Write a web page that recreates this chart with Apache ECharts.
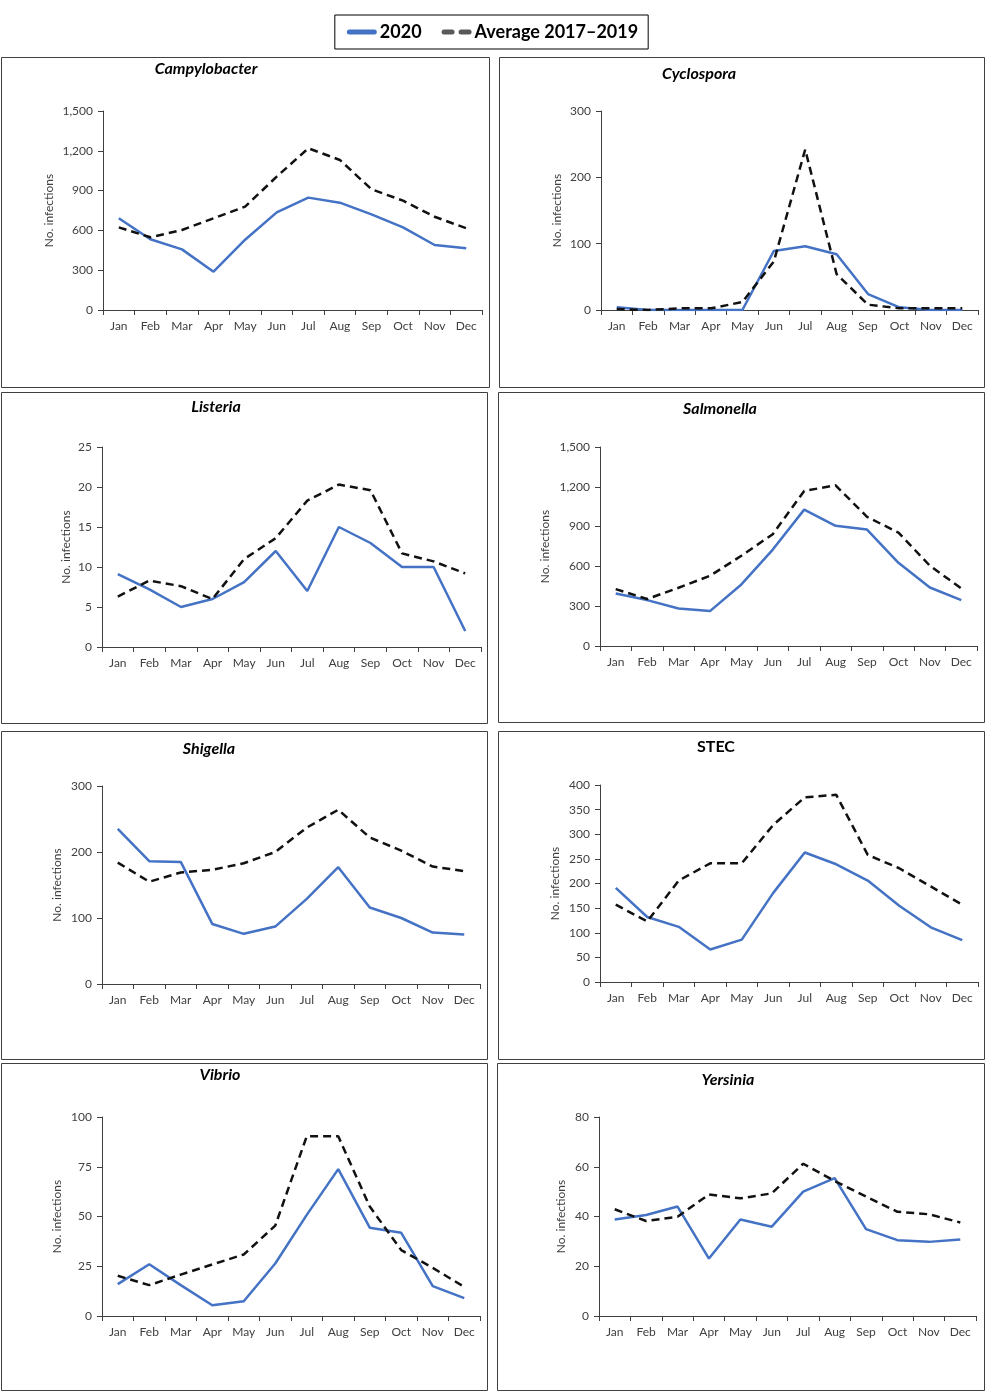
<!DOCTYPE html>
<html>
<head>
<meta charset="utf-8">
<script src="https://cdn.jsdelivr.net/npm/echarts@6/dist/echarts.min.js"></script>
<style>
html,body{margin:0;padding:0;background:#fff;}
#chart{width:985px;height:1392px;}
</style>
</head>
<body>
<div id="chart"></div>
<script>
// ---------- DATA ----------
const months = ['Jan','Feb','Mar','Apr','May','Jun','Jul','Aug','Sep','Oct','Nov','Dec'];
const pathogens = ['Campylobacter','Cyclospora','Listeria','Salmonella','Shigella','STEC','Vibrio','Yersinia'];
const seriesNames = ['2020','Average 2017\u20132019'];

const campy2020 = [691, 533, 457, 289, 530, 736, 847, 809, 721, 623, 490, 465];
const campyAvg  = [623, 548, 603, 691, 779, 1005, 1219, 1131, 910, 824, 703, 616];
const cyclo2020 = [4, 0, 0, 0, 0, 89, 96, 84, 24, 4, 0, 0];
const cycloAvg  = [1.5, 0, 2.5, 2.5, 12, 73, 242, 54, 8, 2.5, 2.5, 2.5];
const list2020  = [9.1, 7.2, 5, 6, 8.1, 12, 7, 15, 13, 10, 10, 2];
const listAvg   = [6.3, 8.3, 7.6, 6, 11, 13.6, 18.3, 20.3, 19.6, 11.7, 10.7, 9.2];
const salm2020  = [396, 346, 283, 263, 464, 727, 1028, 906, 878, 627, 441, 346];
const salmAvg   = [429, 354, 439, 529, 680, 843, 1169, 1211, 973, 855, 605, 434];
const shig2020  = [235, 186, 185, 91, 76, 87, 129, 177, 116, 100, 78, 75];
const shigAvg   = [184, 155, 169, 173, 183, 200, 237, 264, 222, 202, 178, 171];
const stec2020  = [191, 132, 112, 66, 86, 181, 263, 239, 206, 155, 111, 85];
const stecAvg   = [157, 123, 206, 241, 241, 319, 375, 380, 258, 231, 194, 157];
const vib2020   = [16, 26, 15.5, 5.4, 7.4, 26.4, 50.8, 73.8, 44.4, 41.8, 15, 9];
const vibAvg    = [20.2, 15.5, 20.8, 25.9, 30.9, 45.4, 90.3, 90.3, 55, 33.1, 24.2, 14.6];
const yers2020  = [38.8, 40.6, 44, 23.1, 38.8, 35.9, 50, 55.4, 34.9, 30.5, 29.8, 30.8];
const yersAvg   = [42.9, 38.2, 39.9, 48.9, 47.3, 49.3, 61.2, 54.3, 48, 41.9, 40.9, 37.6];

const yMax      = [1500, 300, 25, 1500, 300, 400, 100, 80];
const yInterval = [300, 100, 5, 300, 100, 50, 25, 20];
const yAxisTitle = 'No. infections';

const values2020 = [campy2020, cyclo2020, list2020, salm2020, shig2020, stec2020, vib2020, yers2020];
const valuesAvg  = [campyAvg, cycloAvg, listAvg, salmAvg, shigAvg, stecAvg, vibAvg, yersAvg];

// ---------- LAYOUT (positions only) ----------
const layout = [
  {plot:[103,111,482,310], box:[1,57,489,387],   title:[206,69],  italic:true,  gap:48},
  {plot:[601,111,978,310], box:[499,57,984,387], title:[699,74],  italic:true,  gap:38},
  {plot:[102,447,481,647], box:[1,392,487,723],  title:[216,407], italic:true,  gap:30},
  {plot:[600,447,977,646], box:[498,392,984,722],title:[720,409], italic:true,  gap:49},
  {plot:[102,786,480,984], box:[1,731,487,1059], title:[209,749], italic:true,  gap:39},
  {plot:[600,785,978,982], box:[498,731,984,1059],title:[716,747],italic:false, gap:39},
  {plot:[102,1117,480,1316],box:[1,1063,487,1390],title:[220,1075],italic:true, gap:39},
  {plot:[599,1117,976,1316],box:[497,1063,984,1390],title:[728,1080],italic:true,gap:32}
];

const FONT = 'Lato, "Open Sans", sans-serif';
const axisColor = '#404040';
const blue = '#4472C4';

const grids = [], xAxes = [], yAxes = [], series = [], titles = [], graphics = [];
layout.forEach((L, i) => {
  const [l, t, r, b] = L.plot;
  grids.push({left: l, top: t, width: r - l, height: b - t, containLabel: false});
  xAxes.push({
    type: 'category', gridIndex: i, data: months, boundaryGap: true,
    axisLine: {show: true, lineStyle: {color: axisColor, width: 1}},
    axisTick: {show: true, length: 5, lineStyle: {color: axisColor}},
    axisLabel: {color: '#404040', fontSize: 12, fontFamily: FONT, margin: 10, interval: 0},
    splitLine: {show: false}
  });
  yAxes.push({
    type: 'value', gridIndex: i, min: 0, max: yMax[i], interval: yInterval[i],
    name: yAxisTitle, nameLocation: 'middle', nameGap: L.gap, nameRotate: 90,
    nameTextStyle: {color: '#404040', fontSize: 12, fontFamily: FONT},
    axisLine: {show: true, lineStyle: {color: axisColor, width: 1}},
    axisTick: {show: true, length: 5, lineStyle: {color: axisColor}},
    axisLabel: {color: '#404040', fontSize: 12, fontFamily: FONT, margin: 10,
      formatter: v => v.toLocaleString('en-US')},
    splitLine: {show: false}
  });
  series.push({
    name: seriesNames[0], type: 'line', xAxisIndex: i, yAxisIndex: i,
    data: values2020[i], symbol: 'none', smooth: false,
    lineStyle: {color: blue, width: 2.5}, itemStyle: {color: blue}, z: 3
  });
  series.push({
    name: seriesNames[1], type: 'line', xAxisIndex: i, yAxisIndex: i,
    data: valuesAvg[i], symbol: 'none', smooth: false,
    lineStyle: {color: '#111', width: 2.5, type: [8, 5]}, itemStyle: {color: '#595959'}, z: 4
  });
  titles.push({
    text: pathogens[i], left: L.title[0] - 5, top: L.title[1] - 13, textAlign: 'center',
    textStyle: {fontSize: 16, fontWeight: 'bold', fontStyle: L.italic ? 'italic' : 'normal',
      color: '#000', fontFamily: FONT}
  });
  const [x0, y0, x1, y1] = L.box;
  graphics.push({
    type: 'rect', shape: {x: x0 + 0.5, y: y0 + 0.5, width: x1 - x0, height: y1 - y0},
    style: {fill: 'none', stroke: '#404040', lineWidth: 1}, silent: true, z: -1
  });
});

const chart = echarts.init(document.getElementById('chart'), null, {renderer: 'canvas'});
chart.setOption({
  backgroundColor: '#fff',
  animation: false,
  title: titles,
  legend: {
    data: [
      {name: seriesNames[0], icon: 'path://M2.5,0H27.5A2.5,2.5 0 0 1 27.5,5H2.5A2.5,2.5 0 0 1 2.5,0Z',
       itemStyle: {color: blue}},
      {name: seriesNames[1], icon: 'path://M2.5,0H10.5A2.5,2.5 0 0 1 10.5,5H2.5A2.5,2.5 0 0 1 2.5,0Z M19.5,0H27.5A2.5,2.5 0 0 1 27.5,5H19.5A2.5,2.5 0 0 1 19.5,0Z',
       itemStyle: {color: '#595959'}}
    ],
    top: 15, left: 'center',
    borderColor: '#000', borderWidth: 1, padding: [8, 10, 8, 12],
    itemWidth: 30, itemHeight: 5, itemGap: 20,
    textStyle: {fontSize: 18, fontWeight: 'bold', color: '#000', fontFamily: FONT, padding: [0,0,0,-2]}
  },
  grid: grids,
  xAxis: xAxes,
  yAxis: yAxes,
  series: series,
  graphic: graphics
});
</script>
</body>
</html>
